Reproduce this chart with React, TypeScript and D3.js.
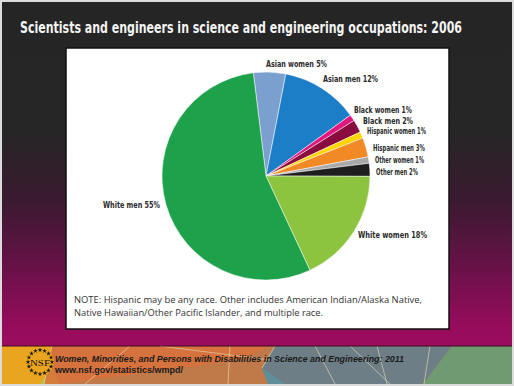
import React from "react";
import * as d3 from "d3";

const categories = [
  "Asian women", "Asian men", "Black women", "Black men", "Hispanic women",
  "Hispanic men", "Other women", "Other men", "White women", "White men",
];
const values = [5, 12, 1, 2, 1, 3, 1, 2, 18, 55];
const colors = [
  "#7b9fcf", "#1b7ec6", "#e0177f", "#8a0c3e", "#ffd400",
  "#f18a25", "#a9a9a9", "#1e1e1e", "#8cc43f", "#1ea14b",
];
const title = "Scientists and engineers in science and engineering occupations: 2006";
const noteLines = [
  "NOTE: Hispanic may be any race. Other includes American Indian/Alaska Native,",
  "Native Hawaiian/Other Pacific Islander, and multiple race.",
];
const footerTitle = "Women, Minorities, and Persons with Disabilities in Science and Engineering: 2011";
const footerUrl = "www.nsf.gov/statistics/wmpd/";

// label layout (x, baseline y, width)
const labelLayout: [number, number, number][] = [
  [266, 67, 61],
  [323, 82, 55],
  [354, 113, 58],
  [363, 124, 50],
  [367, 134, 59],
  [373, 151, 52],
  [375, 163, 49],
  [376, 175, 42],
  [358, 238, 69],
  [103, 208, 57],
];

const W = 514, H = 386;
const cx = 266, cy = 176, R = 104;
const startDeg = -7;

export default function App() {
  const pie = d3.pie<number>().sort(null)
    .startAngle((startDeg * Math.PI) / 180)
    .endAngle(2 * Math.PI + (startDeg * Math.PI) / 180);
  const arcs = pie(values);
  const arcGen = d3.arc<d3.PieArcDatum<number>>().innerRadius(0).outerRadius(R);
  const condensed = "'Liberation Sans Narrow', 'DejaVu Sans Condensed', 'Arial Narrow', sans-serif";

  // NSF logo stars
  const stars = d3.range(16).map((i) => {
    const a = (i / 16) * 2 * Math.PI;
    return [40 + 12 * Math.cos(a), 362 + 12 * Math.sin(a)];
  });
  const starPath = d3.symbol().type(d3.symbolStar).size(7)();
  const titleScale = 0.78;

  return (
    <div style={{ position: "absolute", left: 0, top: 0 }}>
      <svg width={W} height={H} style={{ display: "block" }}>
        <defs>
          <linearGradient id="bg" x1="0" y1="0" x2="0" y2={H} gradientUnits="userSpaceOnUse">
            <stop offset={0} stopColor="#252525" />
            <stop offset={130 / H} stopColor="#262626" />
            <stop offset={200 / H} stopColor="#3a1a30" />
            <stop offset={270 / H} stopColor="#6a1149" />
            <stop offset={325 / H} stopColor="#960c5b" />
            <stop offset={345 / H} stopColor="#9c0c5e" />
          </linearGradient>
        </defs>
        <rect x={0} y={0} width={W} height={H} fill="#dcdcdc" />
        <rect x={2} y={2} width={W - 4} height={344} fill="url(#bg)" />
        {/* footer */}
        <g>
          <rect x={2} y={346} width={W - 4} height={38} fill="#c07a4a" />
          <polygon points="2,346 52,346 44,384 2,384" fill="#e9a51f" />
          <polygon points="40,384 52,366 60,384" fill="#b8c046" />
          <polygon points="52,346 270,346 240,360 150,372 60,384 44,384" fill="#d8713b" opacity={0.85} />
          <polygon points="275,346 452,346 423,384 268,384 262,368" fill="#6e7e86" />
          <polygon points="452,346 512,346 512,384 423,384" fill="#6f9a72" />
          <polygon points="262,368 268,384 285,384" fill="#5f8f9a" />
          <g stroke="#e8d8b8" strokeWidth={0.8} fill="none" opacity={0.8}>
            <line x1={52} y1={346} x2={44} y2={384} />
            <line x1={130} y1={346} x2={85} y2={384} />
            <line x1={230} y1={346} x2={228} y2={384} />
            <line x1={275} y1={346} x2={262} y2={368} />
            <line x1={315} y1={346} x2={335} y2={384} />
            <line x1={350} y1={346} x2={390} y2={384} />
            <line x1={377} y1={346} x2={387} y2={384} />
            <line x1={430} y1={346} x2={424} y2={384} />
            <line x1={160} y1={346} x2={270} y2={360} />
          </g>
          <line x1={2} y1={346} x2={W - 2} y2={346} stroke="#3a0a22" strokeWidth={1} />
          {/* NSF logo */}
          <circle cx={40} cy={362} r={14} fill="#e9a51f" />
          {stars.map(([x, y], i) => (
            <path key={i} d={starPath || ""} transform={`translate(${x},${y})`} fill="#1a1a1a" />
          ))}
          <text x={40} y={365.5} textAnchor="middle" fontFamily="'Liberation Serif', serif" fontSize={9} fill="#111" textLength={20} lengthAdjust="spacingAndGlyphs">NSF</text>
          <text x={55} y={362} fontFamily="'Liberation Sans', Arial, sans-serif" fontStyle="italic" fontWeight="bold" fontSize={8.5} fill="#1a1a1a" textLength={349} lengthAdjust="spacingAndGlyphs">{footerTitle}</text>
          <text x={55} y={373} fontFamily="'Liberation Sans', Arial, sans-serif" fontWeight="bold" fontSize={8.5} fill="#1a1a1a" textLength={128} lengthAdjust="spacingAndGlyphs">{footerUrl}</text>
        </g>
        {/* title */}
        <g transform={`translate(20,33) scale(${titleScale},1)`}>
          <text x={0} y={0} fill="#f4f4f4" fontFamily={condensed} fontWeight="bold" fontSize={15} textLength={442 / titleScale} lengthAdjust="spacingAndGlyphs">{title}</text>
        </g>
        {/* panel */}
        <rect x={66} y={48} width={383} height={281} fill="#ffffff" stroke="#111" strokeWidth={1.5} />
        {/* pie */}
        <g transform={`translate(${cx},${cy})`}>
          {arcs.map((a, i) => (
            <path key={categories[i]} d={arcGen(a) || ""} fill={colors[i]} stroke="#ffffff" strokeWidth={0.5} />
          ))}
        </g>
        {arcs.map((a, i) => {
          const [x, y, w] = labelLayout[i];
          return (
            <text key={"l" + i} x={x} y={y} fontFamily={condensed} fontWeight="bold" fontSize={9} fill="#2a2a2a" textLength={w} lengthAdjust="spacingAndGlyphs">
              {`${categories[i]} ${values[i]}%`}
            </text>
          );
        })}
        {noteLines.map((t, i) => (
          <text key={"n" + i} x={74} y={303 + i * 13} fontFamily="'Open Sans', 'Noto Sans', sans-serif" fontSize={8.6} fill="#333" textLength={i === 0 ? 348 : 249} lengthAdjust="spacingAndGlyphs">{t}</text>
        ))}
      </svg>
    </div>
  );
}
